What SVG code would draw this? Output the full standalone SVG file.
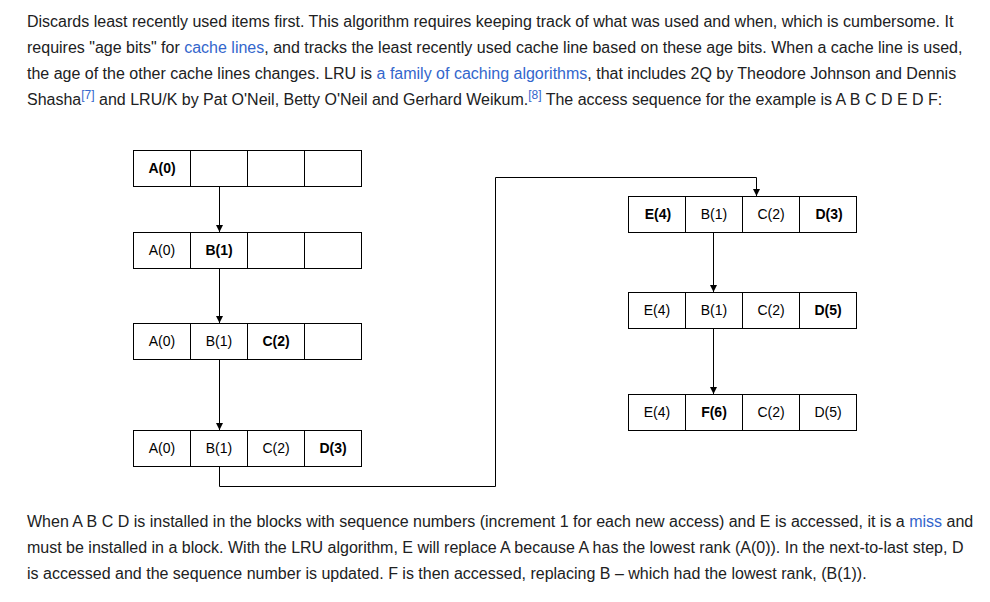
<svg xmlns="http://www.w3.org/2000/svg" width="990" height="602" viewBox="0 0 990 602">
<style>
.p{font-family:"Liberation Sans",Arial,sans-serif;font-size:16px;fill:#202122}
.a{fill:#3366cc}
.s{font-size:12px}
.c rect{fill:#fff;stroke:#000;stroke-width:1}
.c line{stroke:#000;stroke-width:1}
.t{font-family:"Liberation Sans",Arial,sans-serif;font-size:14px;fill:#000;text-anchor:middle}
.b{font-weight:bold}
.k{fill:none;stroke:#000;stroke-width:1}
</style>
<defs>
<marker id="ah" markerUnits="userSpaceOnUse" markerWidth="8" markerHeight="8" refX="7" refY="4" orient="auto">
<path d="M0,0.5 L7,4 L0,7.5 Z" fill="#000"/>
</marker>
</defs>
<rect width="990" height="602" fill="#fff"/>
<g id="intro" class="p">
<text x="27" y="27">Discards least recently used items first. This algorithm requires keeping track of what was used and when, which is cumbersome. It</text>
<text x="27" y="53">requires "age bits" for <tspan class="a">cache lines</tspan>, and tracks the least recently used cache line based on these age bits. When a cache line is used,</text>
<text x="27" y="79">the age of the other cache lines changes. LRU is <tspan class="a">a family of caching algorithms</tspan>, that includes 2Q by Theodore Johnson and Dennis</text>
<text x="27" y="105">Shasha<tspan class="a s" dy="-6">[7]</tspan><tspan dy="6"> and LRU/K by Pat O'Neil, Betty O'Neil and Gerhard Weikum.</tspan><tspan class="a s" dy="-6">[8]</tspan><tspan dy="6"> The access sequence for the example is A B C D E D F:</tspan></text>
</g>
<g id="connectors">
<line class="k" x1="219.5" y1="186.5" x2="219.5" y2="232" marker-end="url(#ah)"/>
<line class="k" x1="219.5" y1="268.5" x2="219.5" y2="323" marker-end="url(#ah)"/>
<line class="k" x1="219.5" y1="359.5" x2="219.5" y2="430" marker-end="url(#ah)"/>
<path class="k" d="M219.5,466.5 V486.5 H495.5 V177.5 H756.5 V196" marker-end="url(#ah)"/>
<line class="k" x1="713.5" y1="232.5" x2="713.5" y2="292" marker-end="url(#ah)"/>
<line class="k" x1="713.5" y1="328.5" x2="713.5" y2="394" marker-end="url(#ah)"/>
</g>
<g id="row1" class="c">
<rect x="133.5" y="150.5" width="228" height="36"/>
<line x1="190.5" y1="150.5" x2="190.5" y2="186.5"/><line x1="247.5" y1="150.5" x2="247.5" y2="186.5"/><line x1="304.5" y1="150.5" x2="304.5" y2="186.5"/>
<text class="t b" x="162" y="173">A(0)</text>
</g>
<g id="row2" class="c">
<rect x="133.5" y="232.5" width="228" height="36"/>
<line x1="190.5" y1="232.5" x2="190.5" y2="268.5"/><line x1="247.5" y1="232.5" x2="247.5" y2="268.5"/><line x1="304.5" y1="232.5" x2="304.5" y2="268.5"/>
<text class="t" x="162" y="255">A(0)</text><text class="t b" x="219" y="255">B(1)</text>
</g>
<g id="row3" class="c">
<rect x="133.5" y="323.5" width="228" height="36"/>
<line x1="190.5" y1="323.5" x2="190.5" y2="359.5"/><line x1="247.5" y1="323.5" x2="247.5" y2="359.5"/><line x1="304.5" y1="323.5" x2="304.5" y2="359.5"/>
<text class="t" x="162" y="346">A(0)</text><text class="t" x="219" y="346">B(1)</text><text class="t b" x="276" y="346">C(2)</text>
</g>
<g id="row4" class="c">
<rect x="133.5" y="430.5" width="228" height="36"/>
<line x1="190.5" y1="430.5" x2="190.5" y2="466.5"/><line x1="247.5" y1="430.5" x2="247.5" y2="466.5"/><line x1="304.5" y1="430.5" x2="304.5" y2="466.5"/>
<text class="t" x="162" y="453">A(0)</text><text class="t" x="219" y="453">B(1)</text><text class="t" x="276" y="453">C(2)</text><text class="t b" x="333" y="453">D(3)</text>
</g>
<g id="row5" class="c">
<rect x="628.5" y="196.5" width="228" height="36"/>
<line x1="685.5" y1="196.5" x2="685.5" y2="232.5"/><line x1="742.5" y1="196.5" x2="742.5" y2="232.5"/><line x1="799.5" y1="196.5" x2="799.5" y2="232.5"/>
<text class="t b" x="658" y="219">E(4)</text><text class="t" x="714" y="219">B(1)</text><text class="t" x="771" y="219">C(2)</text><text class="t b" x="829" y="219">D(3)</text>
</g>
<g id="row6" class="c">
<rect x="628.5" y="292.5" width="228" height="36"/>
<line x1="685.5" y1="292.5" x2="685.5" y2="328.5"/><line x1="742.5" y1="292.5" x2="742.5" y2="328.5"/><line x1="799.5" y1="292.5" x2="799.5" y2="328.5"/>
<text class="t" x="657" y="315">E(4)</text><text class="t" x="714" y="315">B(1)</text><text class="t" x="771" y="315">C(2)</text><text class="t b" x="828" y="315">D(5)</text>
</g>
<g id="row7" class="c">
<rect x="628.5" y="394.5" width="228" height="36"/>
<line x1="685.5" y1="394.5" x2="685.5" y2="430.5"/><line x1="742.5" y1="394.5" x2="742.5" y2="430.5"/><line x1="799.5" y1="394.5" x2="799.5" y2="430.5"/>
<text class="t" x="657" y="417">E(4)</text><text class="t b" x="714" y="417">F(6)</text><text class="t" x="771" y="417">C(2)</text><text class="t" x="828" y="417">D(5)</text>
</g>
<g id="outro" class="p">
<text x="27" y="527">When A B C D is installed in the blocks with sequence numbers (increment 1 for each new access) and E is accessed, it is a <tspan class="a">miss</tspan> and</text>
<text x="27" y="553">must be installed in a block. With the LRU algorithm, E will replace A because A has the lowest rank (A(0)). In the next-to-last step, D</text>
<text x="27" y="579">is accessed and the sequence number is updated. F is then accessed, replacing B – which had the lowest rank, (B(1)).</text>
</g>
</svg>
